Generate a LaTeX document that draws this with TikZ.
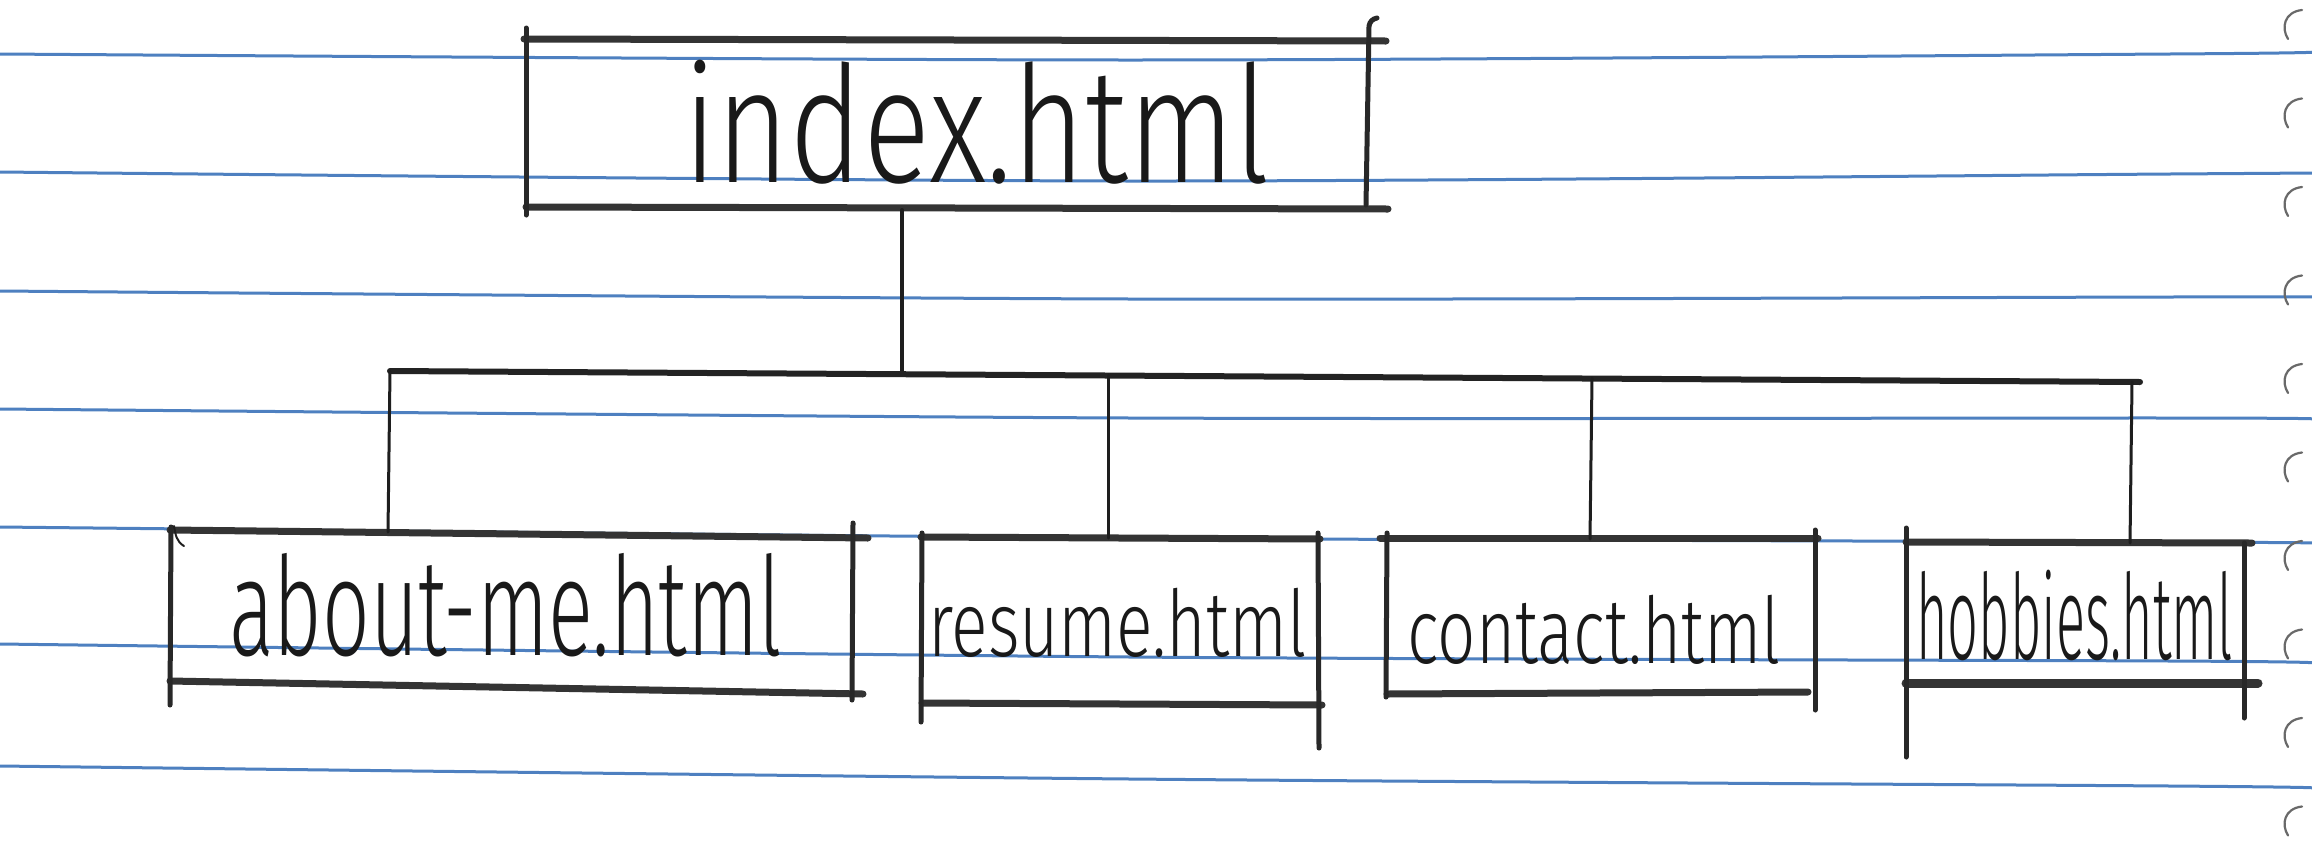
\documentclass[tikz,border=0pt]{standalone}
\usepackage{fontspec}
\newfontfamily\hand{Fira Sans Light}
\begin{document}
\begin{tikzpicture}[x=1pt,y=-1pt,
  ruled/.style={line width=3pt, draw={rgb,255:red,78;green,128;blue,192}},
  edge/.style={line width=7pt, draw={rgb,255:red,52;green,52;blue,52}, line cap=round},
  side/.style={line width=5pt, draw={rgb,255:red,40;green,40;blue,40}, line cap=round},
  wire/.style={line width=3pt, draw={rgb,255:red,30;green,30;blue,30}, line cap=round},
  bus/.style={line width=6pt, draw={rgb,255:red,35;green,35;blue,35}, line cap=round},
  perf/.style={line width=2.2pt, draw={rgb,255:red,105;green,105;blue,105}, line cap=round},
  pagelabel/.style={inner sep=0pt, anchor=base west, text={rgb,255:red,25;green,25;blue,25}},
]
% paper
\path[fill=white] (0,0) rectangle (2312,841);
\useasboundingbox (0,0) rectangle (2312,841);

% ruled lines of the notebook page
\foreach \l/\m/\r/\e in {54/60/54/52, 172/181/174/173, 291/299/297/297,
  409/418/418/419, 527/538/542/543, 644/657/661/663, 766/779/786/788}
  \draw[ruled] plot[smooth] coordinates {(0,\l) (1130,\m) (2170,\r) (2312,\e)};

% perforation marks along the right edge
\foreach \k in {0,...,9}
  \draw[perf] (2302,{22+88.5*\k-12}) .. controls (2284,{22+88.5*\k-10}) and (2281,{22+88.5*\k+6}) .. (2288,{22+88.5*\k+17});

% --- index.html ---
\draw[edge] (524,39) -- (1386,41);
\draw[edge] (526,207) -- (1388,209);
\draw[side] (526,28) -- (526,215);
\draw[side] (1366,205) -- (1369,26) to[out=80,in=190] (1377,18);
\node[pagelabel, font={\hand\fontsize{125pt}{125pt}\selectfont}, yscale=1.3] (index) at (683,182) {index.html};

% --- about-me.html ---
\draw[edge] (170,530) -- (868,538);
\draw[edge] (170,681) -- (863,694);
\draw[side] (171,527) -- (170,705);
\draw[side] (853,523) -- (852,700);
\draw[wire, line width=2pt] (184,546) to[out=150,in=-80] (174,526);
\node[pagelabel, font={\hand\fontsize{110pt}{110pt}\selectfont}, xscale=0.76, yscale=1.25] (aboutme) at (229,655) {about-me.html};

% --- resume.html ---
\draw[edge] (921,537) -- (1320,539);
\draw[edge] (922,703) -- (1322,705);
\draw[side] (922,533) -- (921,722);
\draw[side] (1318,533) -- (1319,748);
\node[pagelabel, font={\hand\fontsize{80pt}{80pt}\selectfont}, xscale=0.85, yscale=1.15] (resume) at (928,656) {resume.html};

% --- contact.html ---
\draw[edge] (1380,538) -- (1818,538);
\draw[edge] (1387,694) -- (1808,692);
\draw[side] (1387,533) -- (1386,697);
\draw[side] (1815,530) -- (1815,710);
\node[pagelabel, font={\hand\fontsize{80pt}{80pt}\selectfont}, xscale=0.84, yscale=1.15] (contact) at (1407,663) {contact.html};

% --- hobbies.html ---
\draw[edge] (1906,542) -- (2252,543);
\draw[edge, line width=9pt] (1906,683) -- (2258,683);
\draw[side] (1906,528) -- (1906,757);
\draw[side] (2244,543) -- (2244,718);
\node[pagelabel, font={\hand\fontsize{95pt}{95pt}\selectfont}, xscale=0.57, yscale=1.25] (hobbies) at (1916,659) {hobbies.html};

% --- connectors ---
\coordinate (stemtop) at (902,210);
\coordinate (stembot) at (902,374);
\coordinate (busL) at (390,371);
\coordinate (busR) at (2140,382);
\coordinate (jA) at (1108,375);
\coordinate (jB) at (1592,378);
\coordinate (jC) at (2132,382);
\coordinate (aboutTop) at (388,532);
\coordinate (resumeTop) at (1108,538);
\coordinate (contactTop) at (1590,539);
\coordinate (hobbiesTop) at (2130,543);

\draw[wire, line width=4pt] (stemtop) -- (stembot);
\draw[bus] (busL) -- (busR);
\draw[wire] (busL) -- (aboutTop);
\draw[wire] (jA) -- (resumeTop);
\draw[wire] (jB) -- (contactTop);
\draw[wire] (jC) -- (hobbiesTop);
\end{tikzpicture}
\end{document}
